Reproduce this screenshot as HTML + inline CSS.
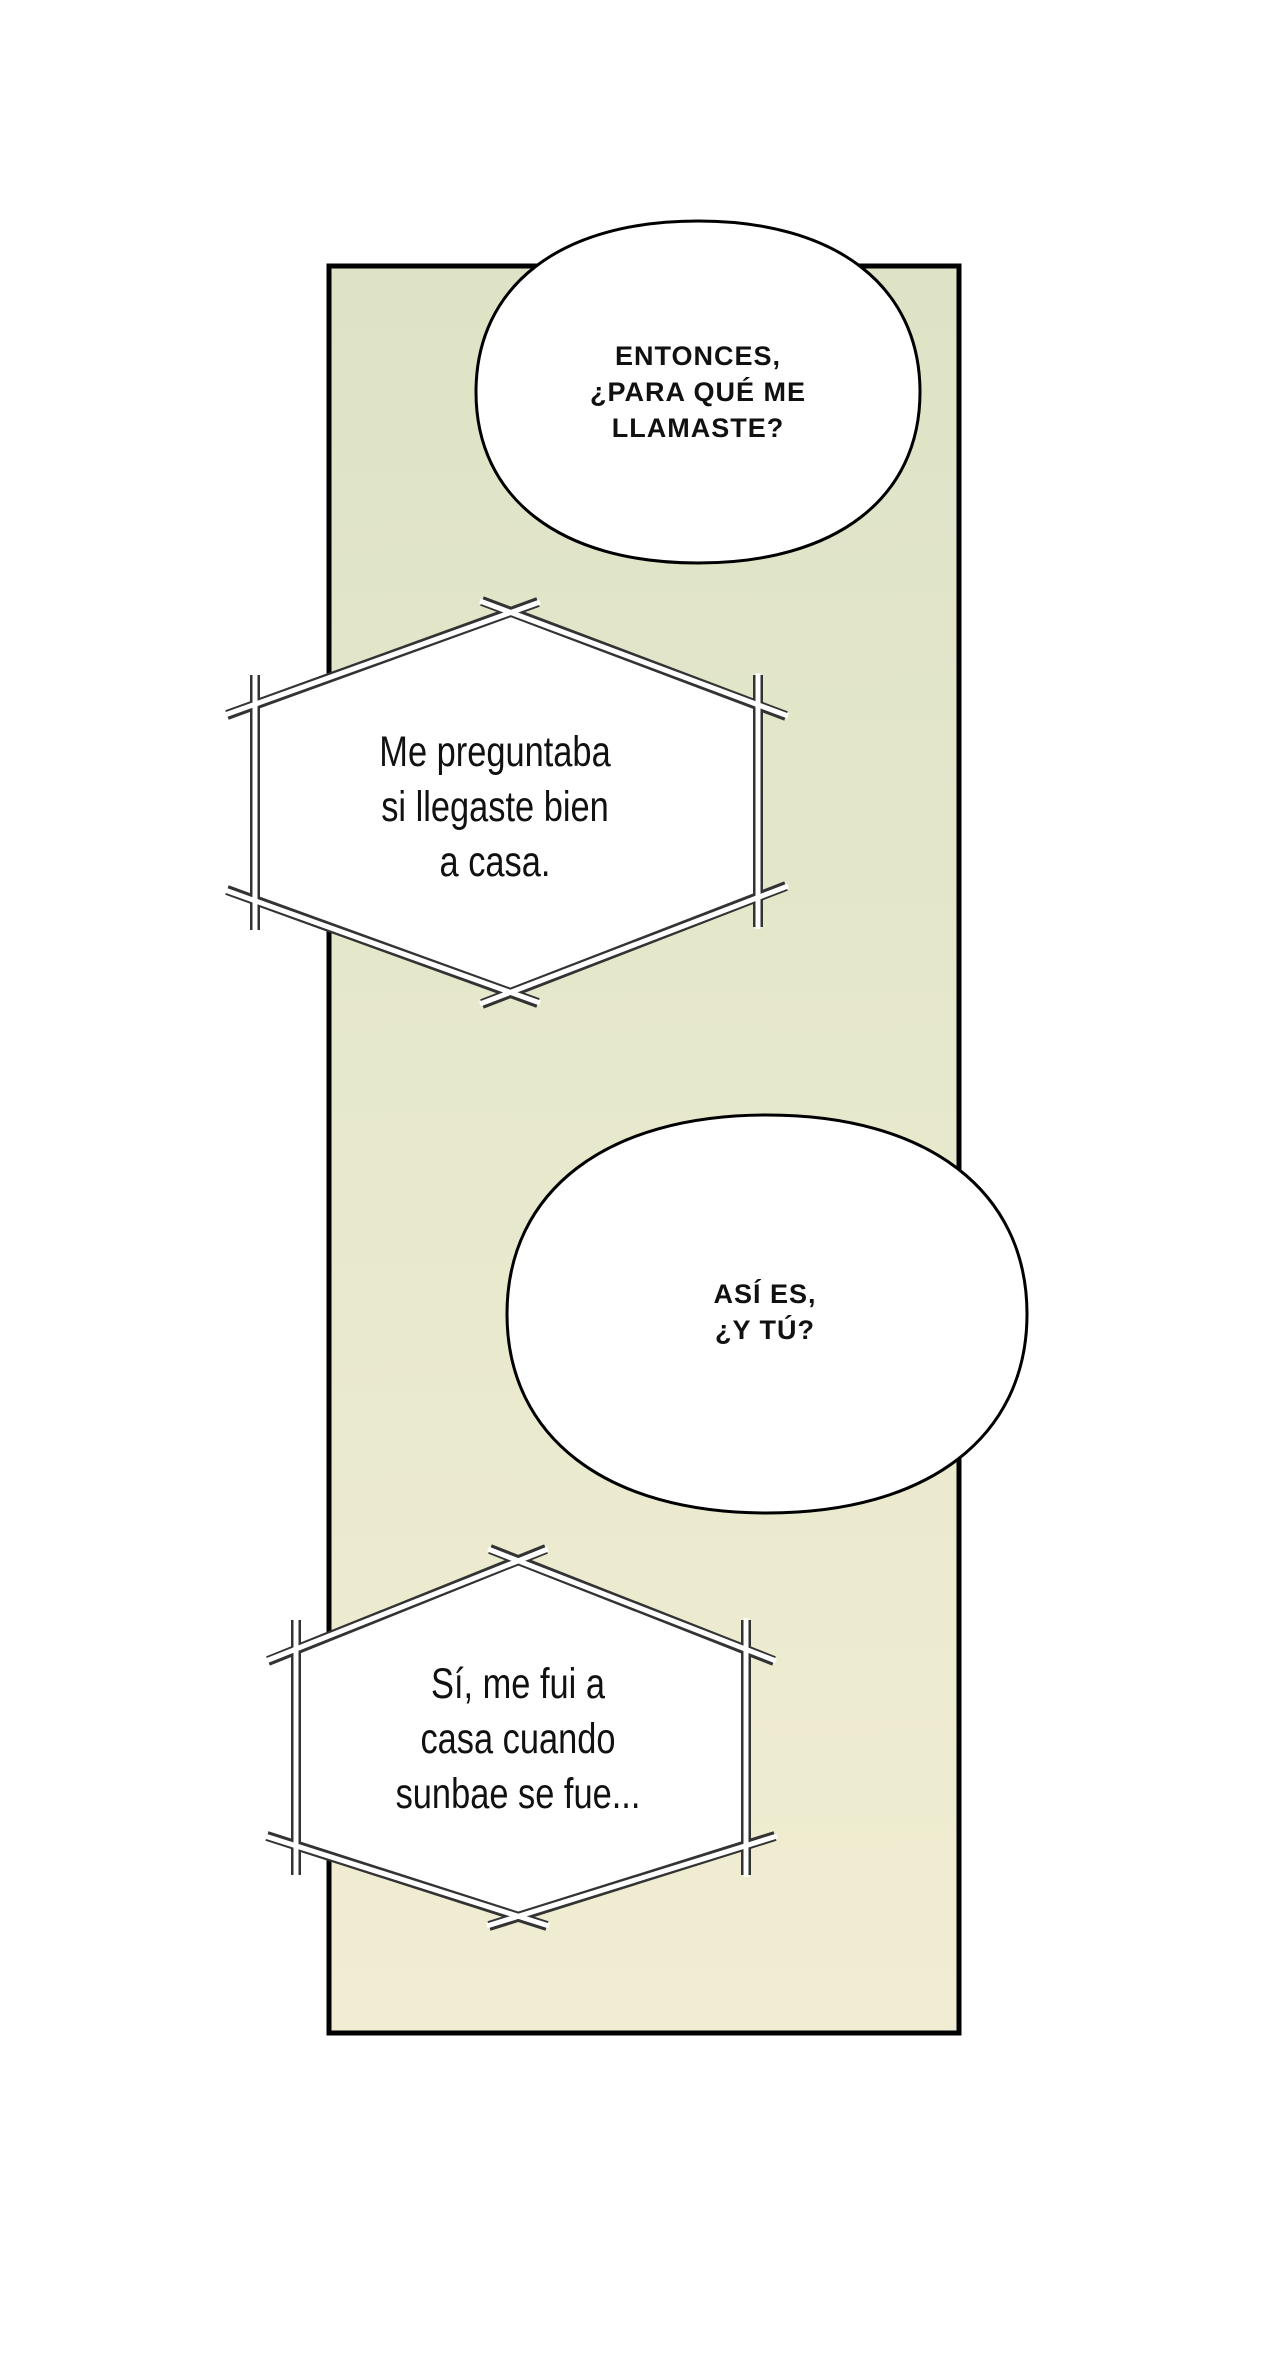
<!DOCTYPE html>
<html><head><meta charset="utf-8"><style>
html,body{margin:0;padding:0;background:#fff;}
body{width:1280px;height:2353px;position:relative;overflow:hidden;}
svg{position:absolute;left:0;top:0;}
.t{position:absolute;text-align:center;font-family:"Liberation Sans",sans-serif;color:#111;}
.b{font-weight:bold;font-size:27px;line-height:36px;letter-spacing:1px;}
.h{font-family:"Liberation Sans Narrow","Liberation Sans",sans-serif;font-size:43px;line-height:55px;transform:scaleX(0.8);white-space:nowrap;}
</style></head><body>
<svg width="1280" height="2353" viewBox="0 0 1280 2353">
<defs><linearGradient id="g" x1="0" y1="0" x2="0" y2="1">
<stop offset="0" stop-color="#dee3c6"/><stop offset="0.5" stop-color="#e7e8cc"/><stop offset="1" stop-color="#f1edd2"/></linearGradient></defs>
<rect x="329" y="266" width="630" height="1767" fill="url(#g)" stroke="#000" stroke-width="5"/>
<path d="M920,392 C920,498 836,563 698,563 C560,563 476,498 476,392 C476,286 560,221 698,221 C836,221 920,286 920,392 Z" fill="#fff" stroke="#000" stroke-width="3"/>
<path d="M1027,1314 C1027,1437 928,1513 767,1513 C606,1513 507,1437 507,1314 C507,1191 606,1115 767,1115 C928,1115 1027,1191 1027,1314 Z" fill="#fff" stroke="#000" stroke-width="3"/>
<polygon points="510,612 758,705 758,897 510,993 255,900 255,705" fill="#fff"/>
<polygon points="518,1560 746,1650 746,1845 518,1917 296,1845 296,1650" fill="#fff"/>
<g stroke="#333" stroke-width="10" stroke-linecap="butt">
<line x1="482" y1="601" x2="786" y2="716"/><line x1="758" y1="675" x2="758" y2="927"/>
<line x1="786" y1="886" x2="482" y2="1004"/><line x1="538" y1="1003" x2="227" y2="890"/>
<line x1="255" y1="930" x2="255" y2="675"/><line x1="227" y1="715" x2="538" y2="602"/>
<line x1="490" y1="1549" x2="774" y2="1661"/><line x1="746" y1="1620" x2="746" y2="1875"/>
<line x1="775" y1="1836" x2="489" y2="1926"/><line x1="547" y1="1926" x2="267" y2="1836"/>
<line x1="296" y1="1875" x2="296" y2="1620"/><line x1="268" y1="1661" x2="546" y2="1549"/>
</g>
<g stroke="#fff" stroke-width="5">
<line x1="480" y1="601" x2="788" y2="716"/><line x1="758" y1="673" x2="758" y2="929"/>
<line x1="788" y1="886" x2="480" y2="1004"/><line x1="540" y1="1003" x2="225" y2="890"/>
<line x1="255" y1="932" x2="255" y2="673"/><line x1="225" y1="715" x2="540" y2="602"/>
<line x1="488" y1="1549" x2="776" y2="1661"/><line x1="746" y1="1618" x2="746" y2="1877"/>
<line x1="777" y1="1836" x2="487" y2="1926"/><line x1="549" y1="1926" x2="265" y2="1836"/>
<line x1="296" y1="1877" x2="296" y2="1618"/><line x1="266" y1="1661" x2="548" y2="1549"/>
</g>
</svg>
<div class="t b" style="left:548px;top:338px;width:300px;">ENTONCES,<br>¿PARA QUÉ ME<br>LLAMASTE?</div>
<div class="t h" style="left:295px;top:725px;width:400px;">Me preguntaba<br>si llegaste bien<br>a casa.</div>
<div class="t b" style="left:615px;top:1276px;width:300px;">ASÍ ES,<br>¿Y TÚ?</div>
<div class="t h" style="left:318px;top:1657px;width:400px;">Sí, me fui a<br>casa cuando<br>sunbae se fue...</div>
</body></html>
